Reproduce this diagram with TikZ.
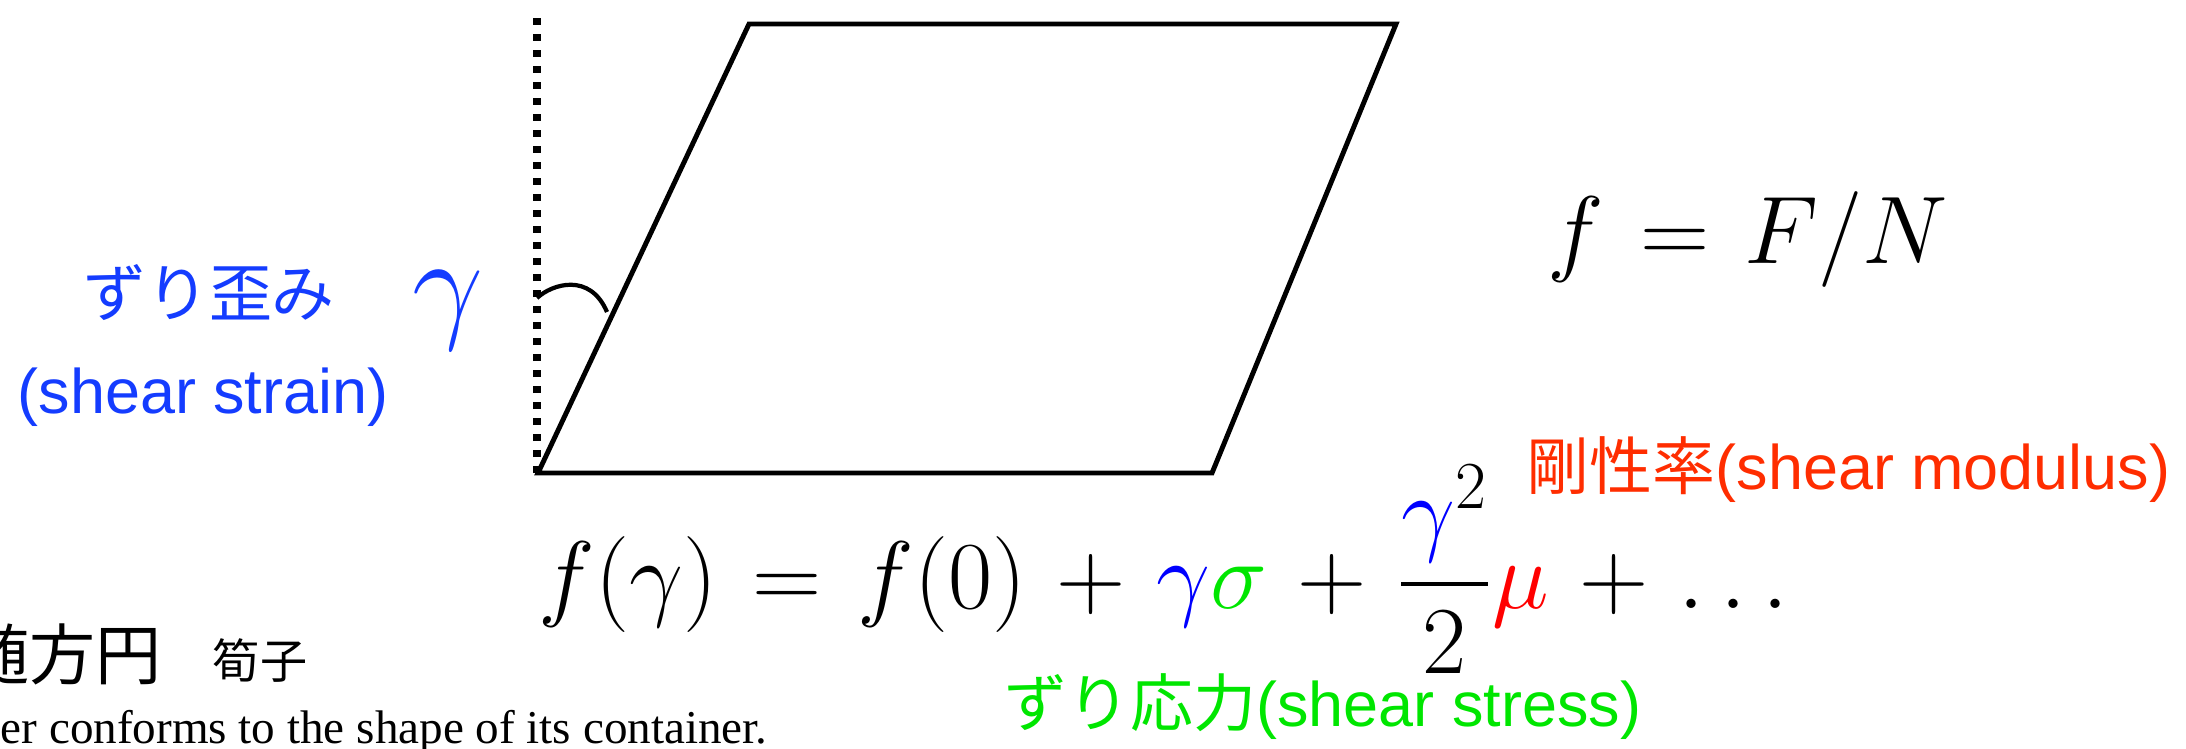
\RequirePackage{fix-cm}
\documentclass[tikz,border=0pt]{standalone}
\usepackage{fontspec}
\usepackage{amsmath}
\newfontfamily\jpfont{Noto Sans CJK JP}
\newfontfamily\helvfont{Liberation Sans}
\newfontfamily\timesfont{Liberation Serif}
\definecolor{strainblue}{RGB}{20,60,255}
\definecolor{stressgreen}{RGB}{0,230,0}
\definecolor{modred}{RGB}{255,45,0}
\newcommand\eqspace{\thickmuskip=6.7mu\relax\medmuskip=5.7mu\relax}

\tikzset{
  edge/.style={line width=1.4pt},
  vdots/.style={line width=2.3pt,dash pattern=on 2pt off 2.55pt},
  sanstext/.style={inner sep=0pt,font=\fontsize{17.9}{21}\selectfont},
  mathtext/.style={inner sep=0pt,font=\fontsize{27.3}{33}\selectfont}
}

\begin{document}
\begin{tikzpicture}[x=0.01cm,y=-0.01cm]
\useasboundingbox (0,0) rectangle (2186,748);

% corners
\coordinate (p1) at ( 538, 473);
\coordinate (p2) at (1212, 473);
\coordinate (p3) at (1396,  24);
\coordinate (p4) at ( 749,  24);

\coordinate (v0) at (537, 473);
\coordinate (v1) at (537,  17);

\coordinate (a1) at (537, 298);
\coordinate (a2) at (607, 312);

% shape
\draw[vdots] (v0)--(v1);
\draw[edge] (p1)--(p2)--(p3)--(p4)--cycle;
\draw[line width=1.2pt] (a1) .. controls (552,284) and (590,272) .. (a2);

% labels
\node[sanstext,text=strainblue] (strainjp) at (209,293) {\jpfont ずり歪み};
\node[sanstext,text=strainblue] (strainen) at (203,397) {\helvfont (shear strain)};
\node[inner sep=0pt,text=strainblue,font=\fontsize{36}{40}\selectfont] (gam) at (448,311) {$\gamma$};

\node[mathtext,anchor=base west] (ratio) at (1547,263) {$\eqspace f = F/N$};

\node[sanstext,text=modred,anchor=west] (modulus) at (1526,470) {{\jpfont 剛性率}{\helvfont (shear modulus)}};

\node[mathtext,anchor=base west] (expand) at (538,608)
  {$\eqspace f(\gamma) = f(0) + {\color{blue}\gamma}{\color{stressgreen}\sigma} + \dfrac{{\color{blue}\gamma}^2}{2}{\color{red}\mu} + \ldots$};

\node[sanstext,text=stressgreen,anchor=west] (stress) at (1004,707) {{\jpfont ずり応力}{\helvfont (shear stress)}};

% quote
\node[inner sep=0pt,anchor=west,font=\fontsize{18.8}{22}\selectfont\jpfont] (quote) at (-37,654) {随方円};
\node[inner sep=0pt,font=\fontsize{13.4}{16}\selectfont\jpfont] (author) at (260,661) {筍子};
\node[inner sep=0pt,anchor=base west,font=\fontsize{13.4}{16}\selectfont\timesfont] (english) at (0,743)
  {er conforms to the shape of its container.};

\end{tikzpicture}
\end{document}
